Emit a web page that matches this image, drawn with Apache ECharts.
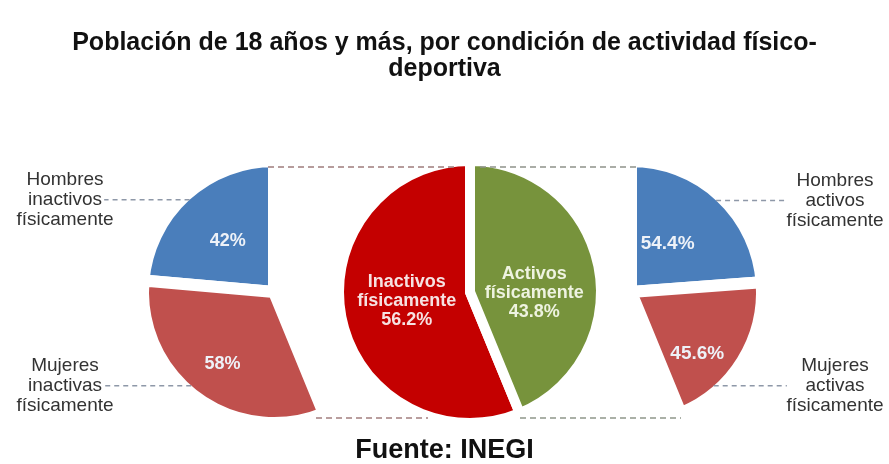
<!DOCTYPE html>
<html>
<head>
<meta charset="utf-8">
<script src="https://cdn.jsdelivr.net/npm/echarts@6/dist/echarts.min.js"></script>
<style>
  html, body { margin: 0; padding: 0; background: #fff; }
  #chart { width: 889px; height: 464px; }
</style>
</head>
<body>
<div id="chart"></div>
<script>
const mainNames = ['Inactivos\nfísicamente', 'Activos\nfísicamente'];
const mainValues = [56.2, 43.8];
const inactiveNames = ['Hombres\ninactivos\nfísicamente', 'Mujeres\ninactivas\nfísicamente'];
const inactiveValues = [42, 58];
const activeNames = ['Hombres\nactivos\nfísicamente', 'Mujeres\nactivas\nfísicamente'];
const activeValues = [54.4, 45.6];

const FONT = '"Liberation Sans", Arial, sans-serif';
const BLUE = '#4a7ebb';
const RED = '#c0504d';
const CY = 292;
const R = 131; // outer radius incl. white border
const VIS = 125; // visible radius
const midX = 470;
const leftX = 274;
const rightX = 631;

const chart = echarts.init(document.getElementById('chart'));

// side pies only cover the share of their parent slice, the rest is left empty
function sideData(names, values, share, rest, colors) {
  const items = values.map((v, i) => ({
    name: names[i],
    value: (v * share) / 100,
    pct: v,
    itemStyle: { color: colors ? colors[i] : 'rgba(0,0,0,0)', borderWidth: colors ? 12 : 0 },
  }));
  items.push({
    name: '',
    value: rest,
    itemStyle: { color: 'rgba(0,0,0,0)', borderWidth: 0 },
    label: { show: false },
    labelLine: { show: false },
  });
  return items;
}

// nudge labels (per data index) away from the default spot
function nudge(offsets) {
  return (p) => {
    const o = offsets[p.dataIndex];
    if (!o) return {};
    return {
      x: p.labelRect.x + p.labelRect.width / 2 + o[0],
      y: p.labelRect.y + p.labelRect.height / 2 + o[1],
      align: 'center',
      verticalAlign: 'middle',
    };
  };
}

// straight dashed leaders: shorten toward the text, optionally move a label up/down
function leaders(cx, side, endShift, moves) {
  return (p) => {
    const pts = p.labelLinePoints;
    if (!pts) return {};
    const dy = moves[p.dataIndex] || 0;
    const end = pts[2][0] + endShift;
    if (!dy) {
      const y0 = pts[0][1];
      return { labelLinePoints: [pts[0], [end, y0], [end, y0]] };
    }
    const y = p.labelRect.y + p.labelRect.height / 2 + dy;
    const start = [cx + side * Math.sqrt(VIS * VIS - (y - CY) * (y - CY)), y];
    return { y, labelLinePoints: [start, [end, y], [end, y]] };
  };
}

function innerLabel(size) {
  return {
    position: 'inside',
    formatter: (p) => p.data.pct + '%',
    color: '#eef2f8',
    fontSize: size,
    fontWeight: 'bold',
    fontFamily: FONT,
  };
}

function nameLabels(edge) {
  return {
    z: 3,
    label: {
      position: 'outside',
      alignTo: 'edge',
      edgeDistance: edge,
      distanceToLabelLine: 0,
      width: 80,
      overflow: 'none',
      formatter: '{n|{b}}',
      rich: {
        n: { align: 'center', fontSize: 19, lineHeight: 20, color: '#333', fontFamily: FONT },
      },
    },
    labelLine: {
      show: true,
      length: 0,
      length2: 40,
      lineStyle: { color: '#8e98a8', width: 1.5, type: [5, 4] },
    },
  };
}

const dash = (x1, x2, y, color) => ({
  type: 'line',
  silent: true,
  z: 100,
  shape: { x1, y1: y, x2, y2: y },
  style: { stroke: color, lineWidth: 1.5, lineDash: [6, 4] },
});

const option = {
  animation: false,
  title: [
    {
      text: 'Población de 18 años y más, por condición de actividad físico-\ndeportiva',
      left: 'center',
      top: 25,
      textStyle: { fontSize: 25, fontWeight: 'bold', color: '#111', lineHeight: 26, fontFamily: FONT },
    },
    {
      text: 'Fuente: INEGI',
      left: 'center',
      top: 432,
      textStyle: { fontSize: 27, fontWeight: 'bold', color: '#111', fontFamily: FONT },
    },
  ],
  graphic: [
    dash(leftX - 6, midX - 14, CY - VIS, '#9e7c7c'),
    dash(midX + 10, rightX + 6, CY - VIS, '#8f938a'),
    dash(leftX + 42, midX - 42, CY + VIS + 1, '#a27f7f'),
    dash(midX + 50, rightX + 50, CY + VIS + 1, '#8f968a'),
  ],
  series: [
    {
      name: 'Total',
      type: 'pie',
      center: [midX, CY],
      radius: R,
      startAngle: 90,
      clockwise: false,
      avoidLabelOverlap: false,
      emphasis: { disabled: true },
      itemStyle: { borderColor: '#fff', borderWidth: 10 },
      label: {
        position: 'inside',
        formatter: (p) => p.name + '\n' + p.value + '%',
        fontSize: 18,
        lineHeight: 19,
        fontWeight: 'bold',
        fontFamily: FONT,
      },
      labelLine: { show: false },
      labelLayout: nudge([[4, -4], [-3, 14]]),
      data: [
        { name: mainNames[0], value: mainValues[0], itemStyle: { color: '#c40000' }, label: { color: '#f6e2e2' } },
        { name: mainNames[1], value: mainValues[1], itemStyle: { color: '#77933c' }, label: { color: '#eef3e0' } },
      ],
    },
    {
      name: 'Inactivos',
      type: 'pie',
      center: [leftX, CY],
      radius: R,
      startAngle: 90,
      clockwise: false,
      avoidLabelOverlap: false,
      emphasis: { disabled: true },
      itemStyle: { borderColor: '#fff' },
      label: innerLabel(18),
      labelLine: { show: false },
      labelLayout: nudge([null, [-11, 17]]),
      data: sideData(inactiveNames, inactiveValues, mainValues[0], mainValues[1], [BLUE, RED]),
    },
    {
      name: 'Activos',
      type: 'pie',
      center: [rightX, CY],
      radius: R,
      startAngle: 90,
      clockwise: true,
      avoidLabelOverlap: false,
      emphasis: { disabled: true },
      itemStyle: { borderColor: '#fff' },
      label: innerLabel(19),
      labelLine: { show: false },
      labelLayout: nudge([[-10, 2], [8, 26]]),
      data: sideData(activeNames, activeValues, mainValues[1], mainValues[0], [BLUE, RED]),
    },
    // name labels with dashed leader lines
    {
      type: 'pie',
      center: [leftX, CY],
      radius: R - 6,
      startAngle: 90,
      clockwise: false,
      silent: true,
      emphasis: { disabled: true },
      ...nameLabels(25),
      labelLayout: leaders(leftX, -1, -18, [0, -7]),
      data: sideData(inactiveNames, inactiveValues, mainValues[0], mainValues[1]),
    },
    {
      type: 'pie',
      center: [rightX, CY],
      radius: R - 6,
      startAngle: 90,
      clockwise: true,
      silent: true,
      emphasis: { disabled: true },
      ...nameLabels(14),
      labelLayout: leaders(rightX, 1, 9, [0, 28]),
      data: sideData(activeNames, activeValues, mainValues[1], mainValues[0]),
    },
  ],
};

chart.setOption(option);
</script>
</body>
</html>
